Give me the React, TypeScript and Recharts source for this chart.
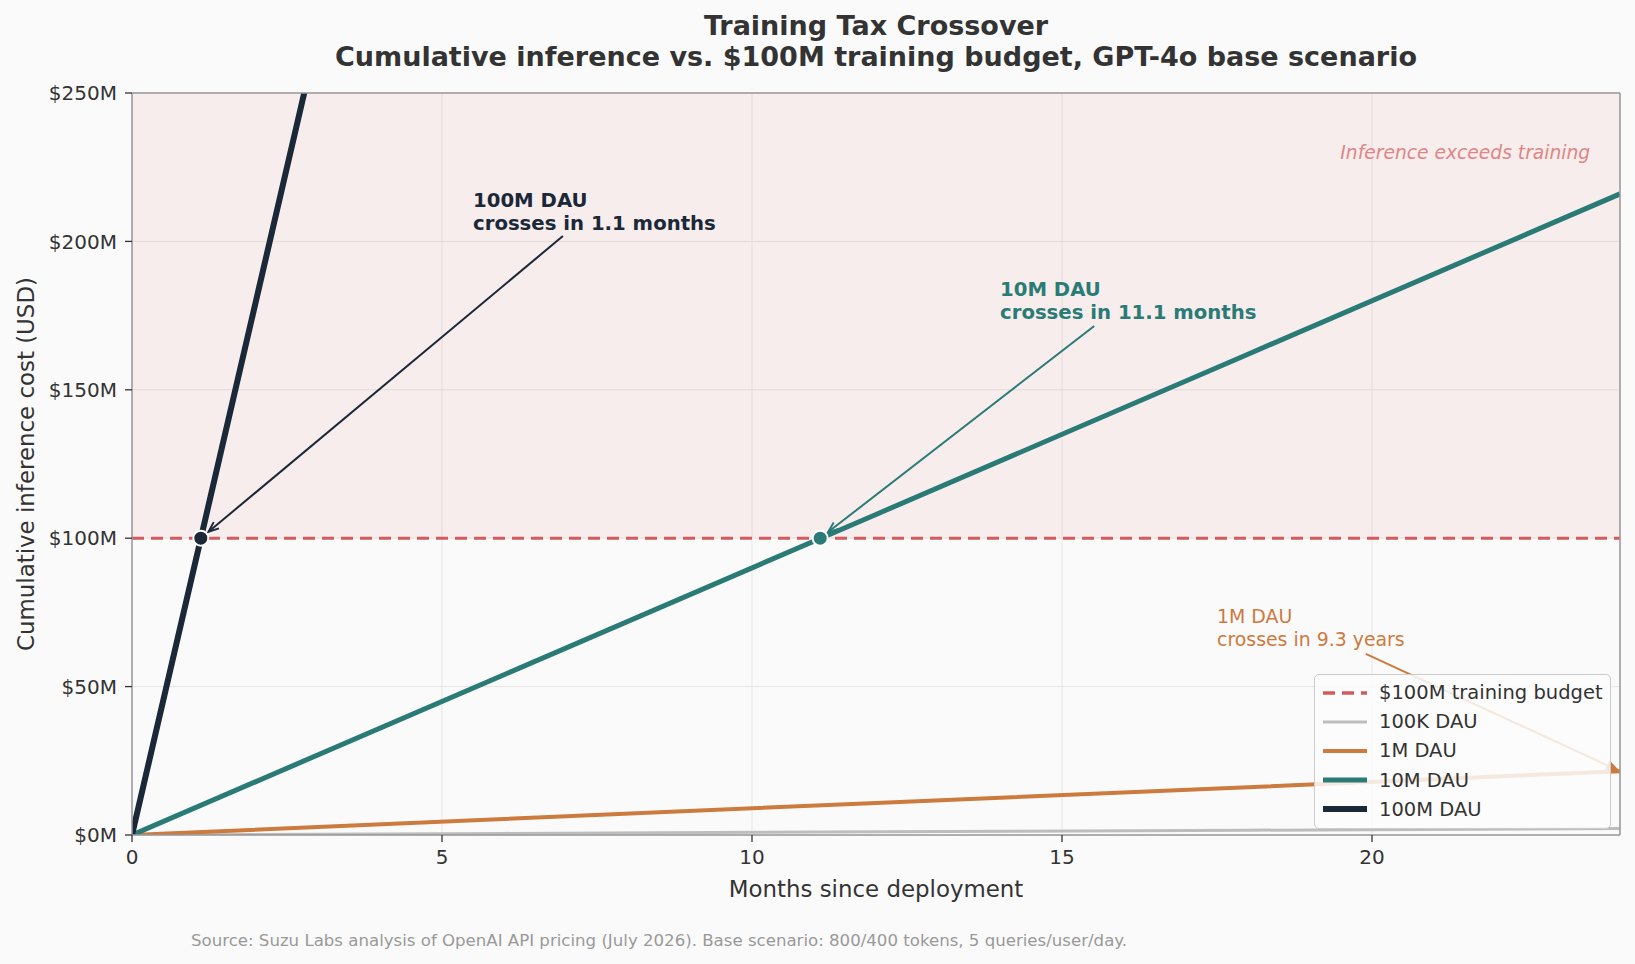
import {
  CartesianGrid,
  Legend,
  Line,
  LineChart,
  ReferenceArea,
  ReferenceDot,
  ReferenceLine,
  XAxis,
  YAxis,
} from "recharts";

// cumulative inference spend, $M, sampled every 6 months
const MONTHS = [0, 6, 12, 18, 24];
const COST_100K = [0, 0.54, 1.08, 1.61, 2.15];
const COST_1M = [0, 5.4, 10.8, 16.1, 21.5];
const COST_10M = [0, 54, 108, 162, 216];
const COST_100M = [0, 540, 1080, 1620, 2160];

const BUDGET = 100;
const X_TICKS = [0, 5, 10, 15, 20];
const Y_TICKS = [0, 50, 100, 150, 200, 250];

// crossover points (months, $M)
const CROSS_10M = { x: 11.1, y: 100 };
const CROSS_100M = { x: 1.11, y: 100 };

const FONT = "'DejaVu Sans', sans-serif";
const INK = "#333333";
const RED = "#d45b5b";
const GRAY = "#bdbdbd";
const ORANGE = "#cd7a3e";
const TEAL = "#2a7b76";
const NAVY = "#1b2838";

const toSeries = (vals: number[]) => MONTHS.map((m, i) => ({ month: m, value: vals[i] }));

const SERIES = [
  { name: "100K DAU", color: GRAY, width: 3, data: toSeries(COST_100K) },
  { name: "1M DAU", color: ORANGE, width: 4, data: toSeries(COST_1M) },
  { name: "10M DAU", color: TEAL, width: 5, data: toSeries(COST_10M) },
  { name: "100M DAU", color: NAVY, width: 6, data: toSeries(COST_100M) },
];

const tickStyle = { fill: INK, fontSize: 20, fontFamily: FONT };

function arrowShape(color: string, width: number, shrink: number, filled = false) {
  return (p: any) => {
    const { x1, y1, x2, y2 } = p;
    const a = Math.atan2(y2 - y1, x2 - x1);
    const tx = x2 - Math.cos(a) * shrink;
    const ty = y2 - Math.sin(a) * shrink;
    const head = 11;
    const spread = 0.38;
    const b1x = tx - head * Math.cos(a - spread);
    const b1y = ty - head * Math.sin(a - spread);
    const b2x = tx - head * Math.cos(a + spread);
    const b2y = ty - head * Math.sin(a + spread);
    return (
      <g>
        <line x1={x1} y1={y1} x2={tx} y2={ty} stroke={color} strokeWidth={width} />
        <path
          d={`M${b1x},${b1y} L${tx},${ty} L${b2x},${b2y}${filled ? " Z" : ""}`}
          fill={filled ? color : "none"}
          stroke={color}
          strokeWidth={width}
        />
      </g>
    );
  };
}

function noteShape(lines: string[], color: string, bold: boolean) {
  return (p: any) => (
    <g>
      {lines.map((t, i) => (
        <text
          key={i}
          x={p.cx}
          y={p.cy + (i - (lines.length - 1) / 2) * 23.4}
          fill={color}
          fontFamily={FONT}
          fontSize={bold ? 19.7 : 18.9}
          fontWeight={bold ? 700 : 400}
          dominantBaseline="central"
        >
          {t}
        </text>
      ))}
    </g>
  );
}

function LegendBox() {
  const rows = [
    { name: "$100M training budget", color: RED, width: 3.3, dash: true },
    ...SERIES.map((s) => ({ name: s.name, color: s.color, width: s.width, dash: false })),
  ];
  return (
    <div
      style={{
        background: "rgba(252,252,252,0.85)",
        border: "1.5px solid #cccccc",
        borderRadius: 5,
        padding: "3px 2px 4px 6px",
        fontFamily: FONT,
        fontSize: 19.5,
        color: INK,
        boxSizing: "border-box",
        width: 297,
        whiteSpace: "nowrap",
      }}
    >
      {rows.map((r) => (
        <div key={r.name} style={{ display: "flex", alignItems: "center", height: 29.2 }}>
          <svg width={58} height={14} style={{ flex: "none" }}>
            <line
              x1={2}
              y1={7}
              x2={46}
              y2={7}
              stroke={r.color}
              strokeWidth={r.width}
              strokeDasharray={r.dash ? "12 7" : undefined}
            />
          </svg>
          <span>{r.name}</span>
        </div>
      ))}
    </div>
  );
}

export default function App() {
  return (
    <div
      style={{
        position: "absolute",
        left: 0,
        top: 0,
        width: 1635,
        height: 964,
        background: "#fafafa",
        fontFamily: FONT,
        overflow: "hidden",
      }}
    >
      <div
        style={{
          position: "absolute",
          left: 76,
          top: 10,
          width: 1600,
          textAlign: "center",
          fontSize: 27,
          fontWeight: 700,
          lineHeight: "31px",
          color: INK,
        }}
      >
        Training Tax Crossover
        <br />
        Cumulative inference vs. $100M training budget, GPT-4o base scenario
      </div>

      <LineChart
        width={1635}
        height={964}
        margin={{ top: 93, right: 15, left: 52, bottom: 89 }}
        style={{ position: "absolute", left: 0, top: 0 }}
      >
        <CartesianGrid stroke="#e6e6e6" strokeWidth={1} />
        <ReferenceArea y1={BUDGET} y2={250} fill="rgb(214,95,95)" fillOpacity={0.08} stroke="none" />
        <XAxis
          type="number"
          dataKey="month"
          domain={[0, 24]}
          ticks={X_TICKS}
          allowDataOverflow
          height={40}
          tick={tickStyle}
          tickSize={7}
          tickMargin={8}
          axisLine={{ stroke: "#999999", strokeWidth: 1.5 }}
          tickLine={{ stroke: INK, strokeWidth: 1.3 }}
        />
        <YAxis
          type="number"
          domain={[0, 250]}
          ticks={Y_TICKS}
          allowDataOverflow
          width={80}
          tick={tickStyle}
          tickSize={7}
          tickMargin={8}
          tickFormatter={(v) => `$${v}M`}
          axisLine={{ stroke: "#999999", strokeWidth: 1.5 }}
          tickLine={{ stroke: INK, strokeWidth: 1.3 }}
        />
        <ReferenceLine y={BUDGET} stroke={RED} strokeWidth={3} strokeDasharray="12 7" />
        {SERIES.map((s) => (
          <Line
            key={s.name}
            data={s.data}
            dataKey="value"
            name={s.name}
            type="linear"
            stroke={s.color}
            strokeWidth={s.width}
            dot={false}
            activeDot={false}
            isAnimationActive={false}
          />
        ))}
        <ReferenceLine y={250} stroke="#999999" strokeWidth={1.5} />
        <ReferenceLine x={24} stroke="#999999" strokeWidth={1.5} />

        <ReferenceDot x={CROSS_100M.x} y={CROSS_100M.y} r={7.5} fill={NAVY} stroke="#ffffff" strokeWidth={2} />
        <ReferenceDot x={CROSS_10M.x} y={CROSS_10M.y} r={7.5} fill={TEAL} stroke="#ffffff" strokeWidth={2} />

        <ReferenceLine
          segment={[{ x: 6.95, y: 201.8 }, CROSS_100M]}
          ifOverflow="visible"
          shape={arrowShape(NAVY, 2, 10)}
        />
        <ReferenceLine
          segment={[{ x: 15.52, y: 171.5 }, CROSS_10M]}
          ifOverflow="visible"
          shape={arrowShape(TEAL, 2, 10)}
        />
        <ReferenceLine
          segment={[{ x: 19.9, y: 61 }, { x: 24, y: 21.5 }]}
          ifOverflow="visible"
          shape={arrowShape(ORANGE, 2, 3, true)}
        />

        <ReferenceDot
          x={5.5}
          y={210}
          ifOverflow="visible"
          shape={noteShape(["100M DAU", "crosses in 1.1 months"], NAVY, true)}
        />
        <ReferenceDot
          x={14}
          y={180}
          ifOverflow="visible"
          shape={noteShape(["10M DAU", "crosses in 11.1 months"], TEAL, true)}
        />
        <ReferenceDot
          x={17.5}
          y={70}
          ifOverflow="visible"
          shape={noteShape(["1M DAU", "crosses in 9.3 years"], ORANGE, false)}
        />
        <ReferenceDot
          x={23.52}
          y={229.8}
          ifOverflow="visible"
          shape={(p: any) => (
            <text
              x={p.cx}
              y={p.cy}
              textAnchor="end"
              dominantBaseline="central"
              fill="#e08585"
              fontFamily={FONT}
              fontSize={18.7}
              fontStyle="italic"
            >
              Inference exceeds training
            </text>
          )}
        />

        <Legend
          layout="vertical"
          align="center"
          verticalAlign="middle"
          wrapperStyle={{ position: "absolute", left: 1314, top: 674, width: 297 }}
          content={() => <LegendBox />}
        />
      </LineChart>

      <div
        style={{
          position: "absolute",
          left: 26,
          top: 464,
          transform: "translate(-50%, -50%) rotate(-90deg)",
          whiteSpace: "nowrap",
          fontSize: 22.9,
          color: INK,
        }}
      >
        Cumulative inference cost (USD)
      </div>
      <div
        style={{
          position: "absolute",
          left: 876,
          top: 889,
          transform: "translate(-50%, -50%)",
          whiteSpace: "nowrap",
          fontSize: 22.9,
          color: INK,
        }}
      >
        Months since deployment
      </div>
      <div
        style={{
          position: "absolute",
          left: 191,
          top: 940,
          transform: "translateY(-50%)",
          whiteSpace: "nowrap",
          fontSize: 16.6,
          color: "#999999",
        }}
      >
        Source: Suzu Labs analysis of OpenAI API pricing (July 2026). Base scenario: 800/400 tokens, 5 queries/user/day.
      </div>
    </div>
  );
}
